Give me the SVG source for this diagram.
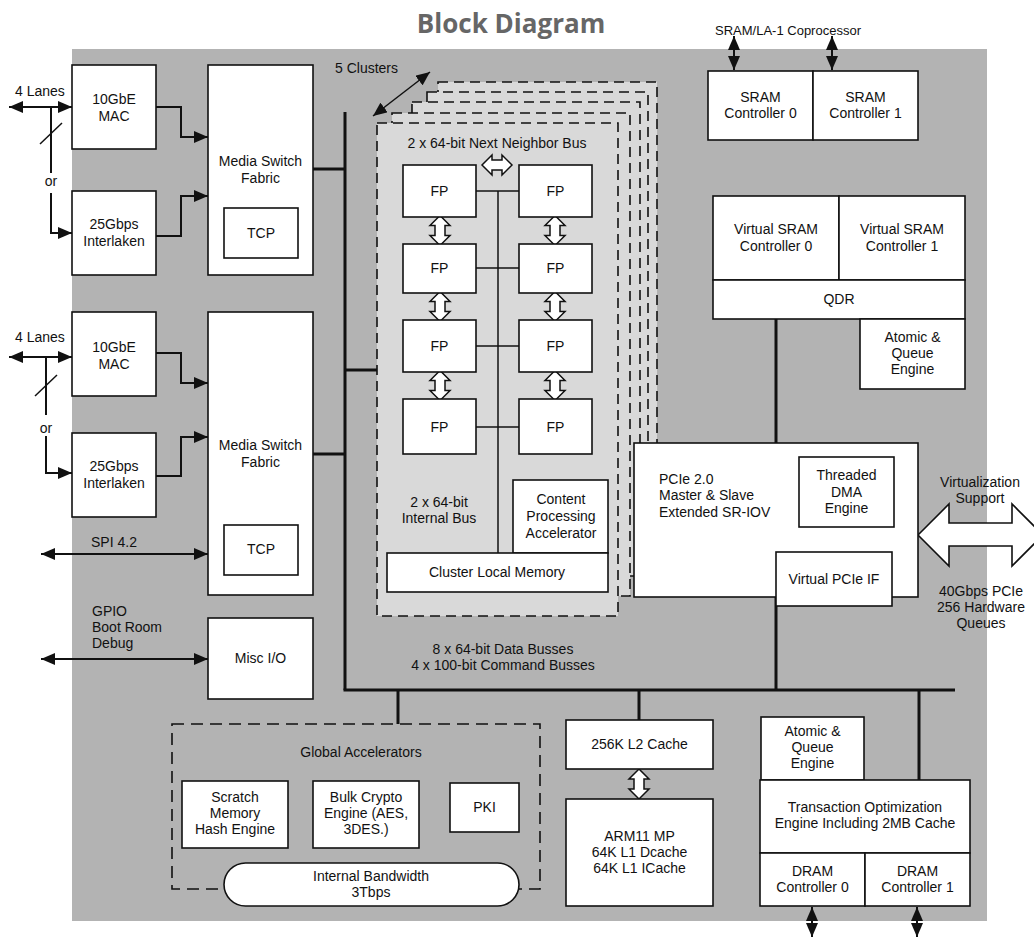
<svg xmlns="http://www.w3.org/2000/svg" xmlns:xlink="http://www.w3.org/1999/xlink" width="1034" height="937" viewBox="0 0 1034 937">
<style>
.t{font-family:"Liberation Sans",Arial,sans-serif;font-size:14px;fill:#111}
.c{text-anchor:middle}
.box{fill:#fff;stroke:#111;stroke-width:1.6}
.ln{stroke:#111;stroke-width:2;fill:none}
.thin{stroke:#111;stroke-width:1.5;fill:none}
.bus{stroke:#111;stroke-width:3;fill:none}
.cl{fill:#d9d9d9;stroke:#111;stroke-width:1.6;stroke-dasharray:10 6}
.ga{fill:none;stroke:#111;stroke-width:1.6;stroke-dasharray:12 7}
.arr{marker-start:url(#ah);marker-end:url(#ah)}
.end{marker-end:url(#ah)}
</style>
<defs>
<marker id="ah" viewBox="0 0 14 12" refX="14" refY="6" markerWidth="14" markerHeight="12" markerUnits="userSpaceOnUse" orient="auto-start-reverse">
<path d="M0,0 L14,6 L0,12 z" fill="#111"/>
</marker>
<path id="vda" d="M0,-15 L10,-5 L5,-5 L5,5 L10,5 L0,15 L-10,5 L-5,5 L-5,-5 L-10,-5 Z" fill="#fff" stroke="#111" stroke-width="1.5" stroke-linejoin="miter"/>
</defs>
<rect x="72" y="49" width="915" height="872" fill="#b3b3b3"/>
<text x="511" y="33" font-family="'Open Sans',sans-serif" font-weight="700" font-size="26" fill="#666" text-anchor="middle">Block Diagram</text>

<g id="clusters">
<rect class="cl" x="438" y="82" width="219" height="454"/>
<rect class="cl" x="427" y="92" width="221" height="464"/>
<rect class="cl" x="412" y="102" width="228" height="474"/>
<rect class="cl" x="392" y="113" width="238" height="483"/>
<rect class="cl" x="377" y="123" width="241" height="493"/>
</g>

<g id="connectors">
<line class="bus" x1="345" y1="112" x2="345" y2="690"/>
<line class="bus" x1="343.5" y1="690" x2="955" y2="690"/>
<line class="bus" x1="313" y1="169" x2="345" y2="169"/>
<line class="bus" x1="313" y1="454" x2="345" y2="454"/>
<line class="bus" x1="345" y1="370" x2="377" y2="370"/>
<line class="bus" x1="398" y1="690" x2="398" y2="724"/>
<line class="bus" x1="639" y1="690" x2="639" y2="720"/>
<line class="bus" x1="776" y1="597" x2="776" y2="690"/>
<line class="bus" x1="919" y1="690" x2="919" y2="780"/>
<line class="bus" x1="776" y1="319" x2="776" y2="443"/>
<line class="ln arr" x1="9" y1="107" x2="72" y2="107"/>
<polyline class="ln" points="51,107 51,173"/>
<polyline class="ln end" points="51,193 51,233 72,233"/>
<line class="thin" x1="40" y1="144" x2="62" y2="123"/>
<polyline class="ln end" points="156,107 181,107 181,137 208,137"/>
<polyline class="ln end" points="156,236 181,236 181,196 208,196"/>
<line class="ln arr" x1="9" y1="357" x2="72" y2="357"/>
<polyline class="ln" points="46,357 46,415"/>
<polyline class="ln end" points="46,436 46,473 72,473"/>
<line class="thin" x1="35" y1="396" x2="57" y2="375"/>
<polyline class="ln end" points="156,353 181,353 181,383 208,383"/>
<polyline class="ln end" points="156,476 181,476 181,437 208,437"/>
<line class="ln arr" x1="41" y1="554" x2="208" y2="554"/>
<line class="ln arr" x1="41" y1="659" x2="208" y2="659"/>
<line class="thin arr" x1="373" y1="116" x2="430" y2="72"/>
<line class="ln arr" x1="734" y1="36" x2="734" y2="70"/>
<line class="ln arr" x1="832" y1="36" x2="832" y2="70"/>
<line class="ln arr" x1="812" y1="907" x2="812" y2="937"/>
<line class="ln arr" x1="917" y1="907" x2="917" y2="937"/>
<line class="thin" x1="498" y1="191" x2="498" y2="553"/>
<line class="thin" x1="476" y1="191" x2="519" y2="191"/>
<line class="thin" x1="476" y1="268" x2="519" y2="268"/>
<line class="thin" x1="476" y1="346" x2="519" y2="346"/>
<line class="thin" x1="476" y1="427" x2="519" y2="427"/>
<use xlink:href="#vda" transform="translate(497,165) rotate(90)"/>
<use xlink:href="#vda" transform="translate(440,230.5)"/>
<use xlink:href="#vda" transform="translate(555,230.5)"/>
<use xlink:href="#vda" transform="translate(440,306.5)"/>
<use xlink:href="#vda" transform="translate(555,306.5)"/>
<use xlink:href="#vda" transform="translate(440,385.5)"/>
<use xlink:href="#vda" transform="translate(555,385.5)"/>
<use xlink:href="#vda" transform="translate(639,784)"/>
<polygon points="918,535 949,504 949,523 1012,523 1012,504 1043,535 1012,566 1012,546 949,546 949,566" fill="#fff" stroke="#111" stroke-width="1.6"/>
</g>

<g id="labels">
<text class="t" x="15" y="96">4 Lanes</text>
<text class="t c" x="51" y="186">or</text>
<text class="t" x="15" y="342">4 Lanes</text>
<text class="t c" x="46" y="433">or</text>
<text class="t" x="91" y="547">SPI 4.2</text>
<text class="t" x="92" y="616">GPIO</text>
<text class="t" x="92" y="632">Boot Room</text>
<text class="t" x="92" y="648">Debug</text>
<text class="t" x="335" y="73">5 Clusters</text>
<text class="t c" x="497" y="148">2 x 64-bit Next Neighbor Bus</text>
<text class="t c" x="439" y="507">2 x 64-bit</text>
<text class="t c" x="439" y="523">Internal Bus</text>
<text class="t c" x="788" y="35" style="font-size:13px">SRAM/LA-1 Coprocessor</text>
<text class="t c" x="503" y="654">8 x 64-bit Data Busses</text>
<text class="t c" x="503" y="670">4 x 100-bit Command Busses</text>
<text class="t c" x="980" y="487">Virtualization</text>
<text class="t c" x="980" y="503">Support</text>
<text class="t c" x="981" y="596">40Gbps PCIe</text>
<text class="t c" x="981" y="612">256 Hardware</text>
<text class="t c" x="981" y="628">Queues</text>
</g>

<g id="mac1"><rect class="box" x="72" y="65" width="84" height="84"/><text class="t c" x="114" y="104">10GbE</text><text class="t c" x="114" y="121">MAC</text></g>
<g id="il1"><rect class="box" x="72" y="191" width="84" height="84"/><text class="t c" x="114" y="229">25Gbps</text><text class="t c" x="114" y="246">Interlaken</text></g>
<g id="msf1"><rect class="box" x="208" y="65" width="105" height="210"/><text class="t c" x="260.5" y="166">Media Switch</text><text class="t c" x="260.5" y="183">Fabric</text>
<rect class="box" x="224" y="208" width="74" height="50"/><text class="t c" x="261" y="238">TCP</text></g>
<g id="mac2"><rect class="box" x="72" y="312" width="84" height="84"/><text class="t c" x="114" y="352">10GbE</text><text class="t c" x="114" y="369">MAC</text></g>
<g id="il2"><rect class="box" x="72" y="433" width="84" height="84"/><text class="t c" x="114" y="471">25Gbps</text><text class="t c" x="114" y="488">Interlaken</text></g>
<g id="msf2"><rect class="box" x="208" y="312" width="105" height="283"/><text class="t c" x="260.5" y="450">Media Switch</text><text class="t c" x="260.5" y="467">Fabric</text>
<rect class="box" x="224" y="525" width="74" height="50"/><text class="t c" x="261" y="554">TCP</text></g>
<g id="misc"><rect class="box" x="208" y="618" width="105" height="81"/><text class="t c" x="260.5" y="663">Misc I/O</text></g>

<g id="fp11"><rect class="box" x="403" y="165" width="73" height="52"/><text class="t c" x="439.5" y="196">FP</text></g>
<g id="fp12"><rect class="box" x="519" y="165" width="73" height="52"/><text class="t c" x="555.5" y="196">FP</text></g>
<g id="fp21"><rect class="box" x="403" y="244" width="73" height="49"/><text class="t c" x="439.5" y="273">FP</text></g>
<g id="fp22"><rect class="box" x="519" y="244" width="73" height="49"/><text class="t c" x="555.5" y="273">FP</text></g>
<g id="fp31"><rect class="box" x="403" y="320" width="73" height="52"/><text class="t c" x="439.5" y="351">FP</text></g>
<g id="fp32"><rect class="box" x="519" y="320" width="73" height="52"/><text class="t c" x="555.5" y="351">FP</text></g>
<g id="fp41"><rect class="box" x="403" y="399" width="73" height="55"/><text class="t c" x="439.5" y="432">FP</text></g>
<g id="fp42"><rect class="box" x="519" y="399" width="73" height="55"/><text class="t c" x="555.5" y="432">FP</text></g>
<g id="cpa"><rect class="box" x="513" y="480" width="95" height="73"/><text class="t c" x="561" y="504">Content</text><text class="t c" x="561" y="521">Processing</text><text class="t c" x="561" y="538">Accelerator</text></g>
<g id="clm"><rect class="box" x="387" y="553" width="221" height="39"/><text class="t c" x="497" y="577">Cluster Local Memory</text></g>

<g id="sram0"><rect class="box" x="708" y="71" width="105" height="69"/><text class="t c" x="760.5" y="102">SRAM</text><text class="t c" x="760.5" y="118">Controller 0</text></g>
<g id="sram1"><rect class="box" x="813" y="71" width="105" height="69"/><text class="t c" x="865.5" y="102">SRAM</text><text class="t c" x="865.5" y="118">Controller 1</text></g>
<g id="vsram0"><rect class="box" x="713" y="196" width="126" height="84"/><text class="t c" x="776" y="234">Virtual SRAM</text><text class="t c" x="776" y="251">Controller 0</text></g>
<g id="vsram1"><rect class="box" x="839" y="196" width="126" height="84"/><text class="t c" x="902" y="234">Virtual SRAM</text><text class="t c" x="902" y="251">Controller 1</text></g>
<g id="qdr"><rect class="box" x="713" y="280" width="252" height="39"/><text class="t c" x="839" y="304">QDR</text></g>
<g id="aqe1"><rect class="box" x="860" y="319" width="105" height="70"/><text class="t c" x="912.5" y="342">Atomic &amp;</text><text class="t c" x="912.5" y="358">Queue</text><text class="t c" x="912.5" y="374">Engine</text></g>

<g id="pcie"><rect class="box" x="634" y="443" width="284" height="154"/><text class="t" x="659" y="484">PCIe 2.0</text><text class="t" x="659" y="500">Master &amp; Slave</text><text class="t" x="659" y="517">Extended SR-IOV</text>
<rect class="box" x="799" y="457" width="95" height="70"/><text class="t c" x="846.5" y="480">Threaded</text><text class="t c" x="846.5" y="497">DMA</text><text class="t c" x="846.5" y="513">Engine</text>
<rect class="box" x="776" y="552" width="116" height="54"/><text class="t c" x="834" y="584">Virtual PCIe IF</text></g>

<g id="ga"><rect class="ga" x="172" y="724" width="368" height="165"/><text class="t c" x="361" y="757">Global Accelerators</text>
<rect class="box" x="182" y="781" width="106" height="67"/><text class="t c" x="235" y="802">Scratch</text><text class="t c" x="235" y="818">Memory</text><text class="t c" x="235" y="834">Hash Engine</text>
<rect class="box" x="313" y="781" width="106" height="67"/><text class="t c" x="366" y="802">Bulk Crypto</text><text class="t c" x="366" y="818">Engine (AES,</text><text class="t c" x="366" y="834">3DES.)</text>
<rect class="box" x="450" y="783" width="69" height="49"/><text class="t c" x="484.5" y="812">PKI</text>
<rect class="box" x="224" y="863" width="295" height="43" rx="21.5" ry="21.5"/><text class="t c" x="371" y="881">Internal Bandwidth</text><text class="t c" x="371" y="897">3Tbps</text></g>

<g id="l2"><rect class="box" x="566" y="720" width="147" height="49"/><text class="t c" x="639.5" y="749">256K L2 Cache</text></g>
<g id="arm"><rect class="box" x="566" y="799" width="147" height="107"/><text class="t c" x="639.5" y="841">ARM11 MP</text><text class="t c" x="639.5" y="857">64K L1 Dcache</text><text class="t c" x="639.5" y="873">64K L1 ICache</text></g>

<g id="aqe2"><rect class="box" x="761" y="717" width="103" height="63"/><text class="t c" x="812.5" y="736">Atomic &amp;</text><text class="t c" x="812.5" y="752">Queue</text><text class="t c" x="812.5" y="768">Engine</text></g>
<g id="toe"><rect class="box" x="760" y="780" width="210" height="73"/><text class="t c" x="865" y="812">Transaction Optimization</text><text class="t c" x="865" y="828">Engine Including 2MB Cache</text></g>
<g id="dram0"><rect class="box" x="760" y="853" width="105" height="53"/><text class="t c" x="812.5" y="876">DRAM</text><text class="t c" x="812.5" y="892">Controller 0</text></g>
<g id="dram1"><rect class="box" x="865" y="853" width="105" height="53"/><text class="t c" x="917.5" y="876">DRAM</text><text class="t c" x="917.5" y="892">Controller 1</text></g>
</svg>
